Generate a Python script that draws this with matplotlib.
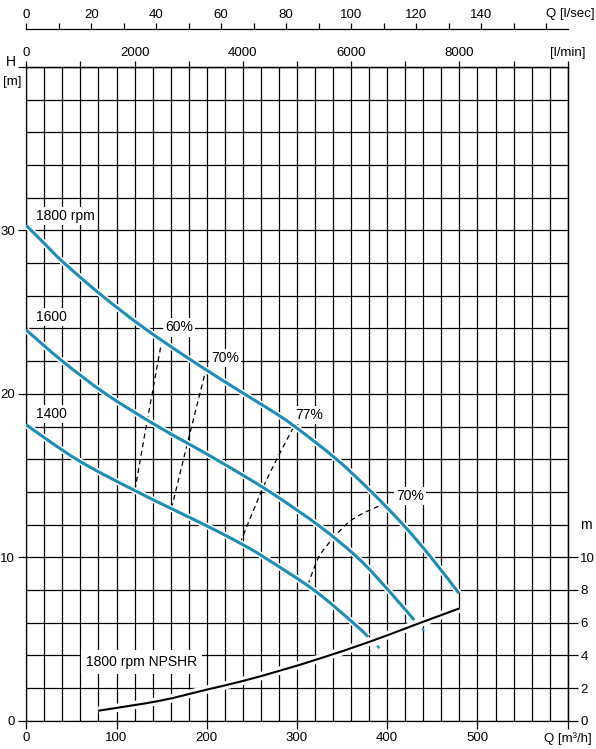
import numpy as np
import matplotlib.pyplot as plt
import matplotlib.patheffects as pe
from matplotlib.path import Path
from matplotlib.patches import PathPatch
from matplotlib.ticker import MultipleLocator

plt.rcParams['font.family'] = ['Liberation Sans', 'DejaVu Sans']

# head curves, Q [m3/h] vs H [m]
q1800 = [0, 20, 40, 83, 130, 183, 240, 270, 297.6, 343.7, 382.5, 417.5, 447, 479.5]
h1800 = [30.3, 29.2, 28.1, 26.05, 24.05, 22.05, 20.05, 19.03, 18.0, 16.0, 14.0, 12.0, 10.1, 7.8]

q1600 = [0, 40, 88, 146, 210, 270, 325, 367.7, 401, 430]
h1600 = [23.9, 22.0, 20.0, 18.0, 16.0, 14.0, 11.9, 9.95, 8.0, 6.15]

q1400 = [0, 57.6, 125, 200, 237, 263.6, 318.6, 362, 378.7]
h1400 = [18.1, 15.93, 13.95, 11.92, 10.86, 10.0, 8.0, 6.0, 5.14]

# small leftover marks below curve ends
stub1400_q = [389, 391]
stub1400_h = [4.6, 4.42]
stub1600_q = [439, 440.5]
stub1600_h = [5.65, 5.48]

# efficiency lines
eff60_q = [120.4, 129.6, 138.8, 150]
eff60_h = [14.1, 17.0, 19.8, 23.2]
eff70a_q = [161, 179.4, 199]
eff70a_h = [13.0, 17.16, 21.45]
eff77_q = [237, 261, 279, 296.6]
eff77_h = [10.86, 14.1, 16.15, 18.0]
eff70b_q = [312, 318, 325, 339, 358.5, 379, 399]
eff70b_h = [8.3, 9.2, 10.1, 11.1, 12.2, 12.85, 13.3]

# NPSHR at 1800 rpm
npsh_q = [80, 148, 200, 240, 281, 325, 379, 429, 480]
npsh_h = [0.61, 1.22, 1.9, 2.43, 3.06, 3.8, 4.8, 5.83, 6.87]

q_ticks = [0, 100, 200, 300, 400, 500, 600]
q_labels = ['0', '100', '200', '300', '400', '500', 'Q [m³/h]']
lmin_ticks = list(range(0, 10001, 1000))
lmin_labels = ['0', '', '2000', '', '4000', '', '6000', '', '8000', '', '[l/min]']
ls_ticks = list(range(0, 161, 10))
ls_labels = ['0', '', '20', '', '40', '', '60', '', '80', '', '100', '', '120', '', '140', '', '']
npsh_ticks = [0, 2, 4, 6, 8, 10]

blue = '#1e8db5'
lw_grid = 0.9


def smooth_path(q, h):
    # catmull-rom through the read points, drawn as cubic beziers
    p = np.column_stack([q, h]).astype(float)
    verts = [p[0]]
    codes = [Path.MOVETO]
    n = len(p)
    for i in range(n - 1):
        p0 = p[i - 1] if i > 0 else p[i]
        p1 = p[i]
        p2 = p[i + 1]
        p3 = p[i + 2] if i + 2 < n else p[i + 1]
        verts += [p1 + (p2 - p0) / 6, p2 - (p3 - p1) / 6, p2]
        codes += [Path.CURVE4] * 3
    return Path(verts, codes)


def curve(ax, q, h, **kw):
    ax.add_patch(PathPatch(smooth_path(q, h), fill=False, **kw))


fig = plt.figure(figsize=(5.96, 7.49), dpi=100)
ax = fig.add_axes([0.0441, 0.0378, 0.9084, 0.8728])
ax.set_xlim(0, 600)
ax.set_ylim(0, 40)

ax.xaxis.set_minor_locator(MultipleLocator(20))
ax.yaxis.set_minor_locator(MultipleLocator(2))
ax.grid(which='both', color='black', lw=lw_grid)
ax.set_axisbelow(True)
ax.tick_params(which='minor', length=0)
for s in ax.spines.values():
    s.set_linewidth(lw_grid)

ax.set_xticks(q_ticks, q_labels)
ax.set_yticks([0, 10, 20, 30, 40], ['0', '10', '20', '30', ''])
ax.tick_params(which='major', direction='out', length=6, width=lw_grid, labelsize=9.5, pad=2)

ax.text(-0.028, 40.3, 'H', transform=ax.get_yaxis_transform(), ha='center', va='center', fontsize=10)
ax.text(-0.026, 39.1, '[m]', transform=ax.get_yaxis_transform(), ha='center', va='center', fontsize=9.5)

# right NPSH scale
sr = ax.secondary_yaxis('right')
sr.set_yticks(npsh_ticks)
sr.tick_params(direction='out', length=7.5, width=lw_grid, labelsize=9.5, pad=1.5)
for s in sr.spines.values():
    s.set_linewidth(lw_grid)
ax.text(1.034, 12.0, 'm', transform=ax.get_yaxis_transform(), ha='center', va='center', fontsize=10)

# top l/min scale
st = ax.secondary_xaxis('top', functions=(lambda q: q * 1000 / 60, lambda l: l * 60 / 1000))
st.set_xticks(lmin_ticks, lmin_labels)
st.tick_params(direction='out', length=4, width=lw_grid, labelsize=9.5, pad=1.5)
for s in st.spines.values():
    s.set_linewidth(lw_grid)

# l/sec scale above
sl = ax.secondary_xaxis(1.058, functions=(lambda q: q / 3.6, lambda s: s * 3.6))
sl.set_xticks(ls_ticks, ls_labels)
sl.tick_params(direction='out', length=4, width=lw_grid, labelsize=9.5, pad=2)
for s in sl.spines.values():
    s.set_linewidth(lw_grid)
ax.text(576, 1.081, 'Q [l/sec]', transform=ax.get_xaxis_transform(), ha='left', va='center', fontsize=9.5)

halo = [pe.Stroke(linewidth=4.5, foreground='white'), pe.Normal()]
for q, h in [(q1800, h1800), (q1600, h1600), (q1400, h1400)]:
    curve(ax, q, h, edgecolor=blue, lw=2.2, capstyle='butt', path_effects=halo, zorder=4)
for q, h in [(stub1400_q, stub1400_h), (stub1600_q, stub1600_h)]:
    ax.plot(q, h, color=blue, lw=1.6, solid_capstyle='butt', zorder=4)

for q, h in [(eff60_q, eff60_h), (eff70a_q, eff70a_h), (eff77_q, eff77_h), (eff70b_q, eff70b_h)]:
    curve(ax, q, h, edgecolor='black', lw=0.9, linestyle=(0, (4, 3)), zorder=3)

curve(ax, npsh_q, npsh_h, edgecolor='black', lw=1.5, capstyle='butt',
      path_effects=[pe.Stroke(linewidth=6, foreground='white'), pe.Normal()], zorder=4)

box = dict(facecolor='white', edgecolor='none', pad=1.5)
labels = [
    (43.2, 30.87, '1800 rpm'),
    (27.7, 24.71, '1600'),
    (27.7, 18.76, '1400'),
    (169.3, 24.06, '60%'),
    (220.6, 22.2, '70%'),
    (313.6, 18.7, '77%'),
    (425, 13.75, '70%'),
]
for x, y, t in labels:
    ax.text(x, y, t, ha='center', va='center', fontsize=10, bbox=box, zorder=5)
ax.text(127.8, 3.59, '1800 rpm NPSHR', ha='center', va='center', fontsize=10,
        bbox=dict(facecolor='white', edgecolor='none', pad=3.5), zorder=5)

fig.savefig('out.png', dpi=100)
